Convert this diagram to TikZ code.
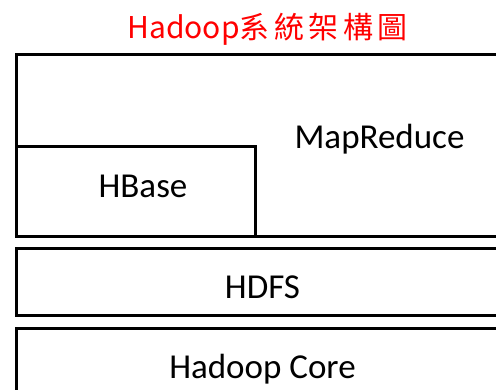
\documentclass[tikz,border=0pt]{standalone}
\usepackage{fontspec}
\setmainfont{Carlito}
\newfontfamily\cjk{Noto Sans CJK TC}
\definecolor{titlered}{RGB}{255,0,0}
\begin{document}
\begin{tikzpicture}[x=1pt,y=-1pt,
  layer/.style={draw=black,line width=3pt,rectangle,anchor=north west,inner sep=0pt,fill=white},
  lbl/.style={font=\fontsize{35}{37}\selectfont,anchor=base,inner sep=0pt}]
\useasboundingbox (0,0) rectangle (496,389);
\clip (0,0) rectangle (496,389);
\node[font=\cjk\fontsize{30}{32}\selectfont,text=titlered,anchor=base,inner sep=0pt] (title) at (267.5,38) {Hadoop系\hspace{4.5pt}統\hspace{4.5pt}架\hspace{4.5pt}構\hspace{4.5pt}圖};
\node[layer,minimum width=520pt,minimum height=181.5pt] (mr) at (14.5,53) {};
\node[layer,minimum width=239pt,minimum height=89.5pt] (hb) at (14.5,145) {};
\node[layer,minimum width=520pt,minimum height=66.5pt] (hdfs) at (14.5,247) {};
\node[layer,minimum width=520pt,minimum height=100pt] (core) at (14.5,326.5) {};
\node[lbl] (mrt) at (379.5,148) {MapReduce};
\node[lbl] (hbt) at (143,197) {HBase};
\node[lbl] (hdfst) at (262.5,298) {HDFS};
\node[lbl] (coret) at (262.5,378) {Hadoop Core};
\end{tikzpicture}
\end{document}
